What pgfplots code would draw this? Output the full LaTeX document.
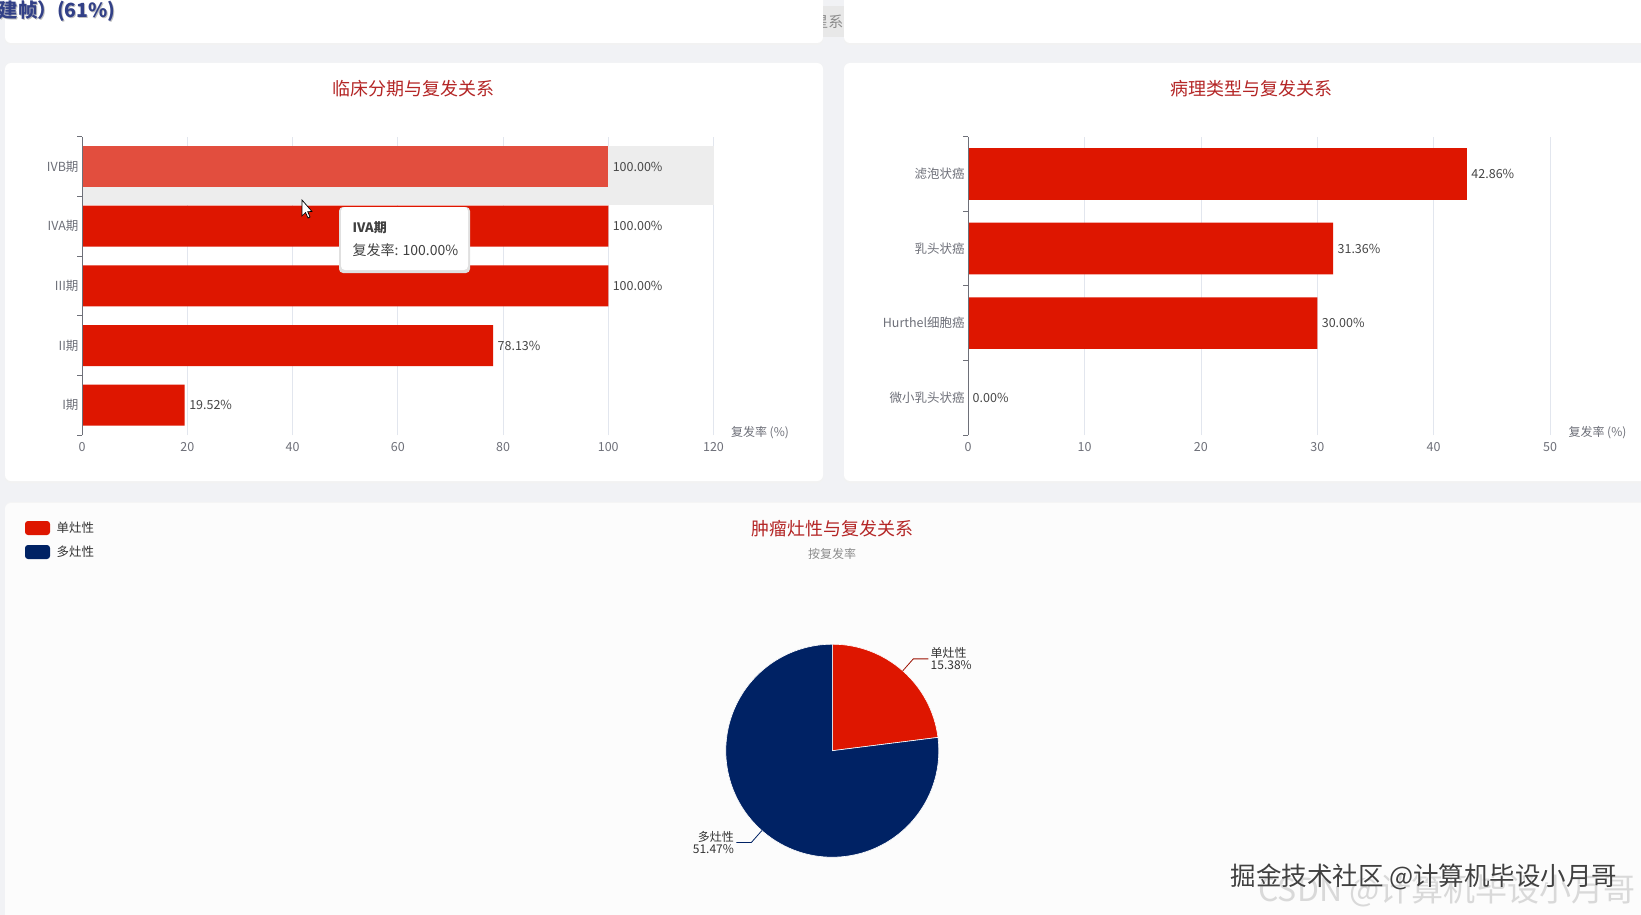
\documentclass[border=0pt]{standalone}
\usepackage{fontspec}
\setmainfont{Noto Sans CJK SC}
\usepackage{pgfplots}
\pgfplotsset{compat=1.18}
\definecolor{bg}{RGB}{241,242,245}
\definecolor{barred}{RGB}{222,22,0}
\definecolor{hired}{RGB}{226,78,62}
\definecolor{navy}{RGB}{0,34,100}
\definecolor{axgrey}{RGB}{110,112,121}
\definecolor{gridc}{RGB}{226,230,238}
\definecolor{titlered}{RGB}{180,38,38}
\definecolor{txt}{RGB}{70,70,70}
\newcommand{\tl}{\fontsize{12.5}{14}\selectfont}
\pgfplotsset{
  dash/.style={
    scale only axis, clip=false,
    xbar, bar shift=0pt,
    axis line style={draw=none},
    xmajorgrids, major grid style={gridc, line width=0.8pt},
    major tick length=0pt,
    tick label style={font=\tl, text=axgrey},
    /pgf/number format/assume math mode=true,
    point meta=x,
    nodes near coords={\pgfmathprintnumber[fixed,fixed zerofill,precision=2]{\pgfplotspointmeta}\%},
    nodes near coords style={font=\tl, text=txt, anchor=west, xshift=1pt},
  }
}
\begin{document}
\begin{tikzpicture}[x=1pt,y=1pt]
\useasboundingbox (0pt,0pt) rectangle (1641pt,-915pt);
\fill[bg] (0,0) rectangle (1641,-915);
% top strip panels
\fill[black!5, rounded corners=6pt] (5,8) rectangle (823,-45);
\fill[white, rounded corners=6pt] (5,8) rectangle (823,-43);
\fill[black!5, rounded corners=6pt] (844,8) rectangle (1650,-45);
\fill[white, rounded corners=6pt] (844,8) rectangle (1650,-43);
\begin{scope}
\clip (823,-6) rectangle (844,-37);
\fill[black!9] (823,-6) rectangle (844,-37);
\node[anchor=east, font=\fontsize{15}{16}\selectfont, text=black!45] at (847,-22) {星系};
\end{scope}
\node[anchor=base west, font=\fontsize{19.5}{22}\selectfont\bfseries, text=black!25] at (-4,-19) {建帧）(61\%)};
\node[anchor=base west, font=\fontsize{19.5}{22}\selectfont\bfseries, text={rgb,255:red,50;green,64;blue,135}] at (-5,-18) {建帧）(61\%)};
% middle panels
\fill[black!5, rounded corners=6pt] (5,-63) rectangle (823,-483);
\fill[white, rounded corners=6pt] (5,-63) rectangle (823,-481);
\fill[black!5, rounded corners=6pt] (844,-63) rectangle (1650,-483);
\fill[white, rounded corners=6pt] (844,-63) rectangle (1650,-481);
% bottom panel
\fill[black!4, rounded corners=6pt] (5,-502) rectangle (1650,-930);
\fill[white!99!black, rounded corners=6pt] (5,-503) rectangle (1650,-930);
% titles
\node[font=\fontsize{18}{20}\selectfont, text=titlered] at (413,-89) {临床分期与复发关系};
\node[font=\fontsize{18}{20}\selectfont, text=titlered] at (1251,-89) {病理类型与复发关系};
\node[font=\fontsize{18}{20}\selectfont, text=titlered] at (832,-529) {肿瘤灶性与复发关系};
\node[font=\fontsize{12}{14}\selectfont, text=black!45] at (832,-554) {按复发率};

% chart 1
\begin{axis}[dash,
  at={(82pt,-435pt)}, anchor=south west,
  width=631.5pt, height=298.3pt,
  xmin=0, xmax=120, ymin=-0.5, ymax=4.5,
  bar width=41pt,
  xtick={0,20,...,120}, ytick={0,...,4},
  yticklabels={I期,II期,III期,IVA期,IVB期},
  xticklabel style={yshift=-4pt},
]
\fill[black!7] (axis cs:0,3.35) rectangle (axis cs:120,4.35);
\addplot[fill=barred, draw=none] coordinates {(19.52,0) (78.13,1) (100,2) (100,3)};
\addplot[fill=hired, draw=none] coordinates {(100,4)};
\draw[axgrey, line width=0.8pt] (axis cs:0,-0.5) -- (axis cs:0,4.5);
\pgfplotsinvokeforeach{-0.5,0.5,1.5,2.5,3.5,4.5}{\draw[axgrey, line width=0.8pt] (axis cs:0,#1) -- ++(-5pt,0pt);}
\node[anchor=west, font=\fontsize{12}{14}\selectfont, text=axgrey] at (rel axis cs:1,0) [xshift=14pt, yshift=2pt] {复发率 (\%)};
\end{axis}

% chart 2
\begin{axis}[dash,
  at={(968.2pt,-435pt)}, anchor=south west,
  width=581.8pt, height=298.3pt,
  xmin=0, xmax=50, ymin=-0.5, ymax=3.5,
  bar width=51.7pt,
  xtick={0,10,...,50}, ytick={0,...,3},
  yticklabels={微小乳头状癌,Hurthel细胞癌,乳头状癌,滤泡状癌},
  xticklabel style={yshift=-4pt},
]
\addplot[fill=barred, draw=none] coordinates {(0,0) (30.00,1) (31.36,2) (42.86,3)};
\draw[axgrey, line width=0.8pt] (axis cs:0,-0.5) -- (axis cs:0,3.5);
\pgfplotsinvokeforeach{-0.5,0.5,1.5,2.5,3.5}{\draw[axgrey, line width=0.8pt] (axis cs:0,#1) -- ++(-5pt,0pt);}
\node[anchor=west, font=\fontsize{12}{14}\selectfont, text=axgrey] at (rel axis cs:1,0) [xshift=15pt, yshift=2pt] {复发率 (\%)};
\end{axis}

% tooltip and cursor
\fill[black!12, rounded corners=4pt] (339,-207) rectangle (470,-273);
\fill[white, rounded corners=4pt] (341,-207) rectangle (468,-270);
\node[anchor=west, font=\fontsize{13}{15}\selectfont\bfseries, text=black!75] at (349,-228) {IVA期};
\node[anchor=west, font=\fontsize{14}{16}\selectfont, text=black!75] at (349,-250) {复发率: 100.00\%};
\fill[white, draw=black, line width=0.7pt] (302,-200) -- (302,-216) -- (305.5,-212.5) -- (308,-218) -- (310,-217) -- (307.7,-211.7) -- (312,-211.5) -- cycle;

% legend
\fill[barred, rounded corners=3pt] (25,-521) rectangle (50,-535);
\node[anchor=west, font=\fontsize{12.5}{14}\selectfont, text=black!80] at (53,-527.5) {单灶性};
\fill[navy, rounded corners=3pt] (25,-545) rectangle (50,-559);
\node[anchor=west, font=\fontsize{12.5}{14}\selectfont, text=black!80] at (53,-551.5) {多灶性};

% pie
\pgfmathsetmacro\vA{15.38}
\pgfmathsetmacro\vB{51.47}
\pgfmathsetmacro\ea{90-360*\vA/(\vA+\vB)}
\pgfmathsetmacro\ex{cos(\ea)}
\pgfmathsetmacro\ey{sin(\ea)}
\pgfmathsetmacro\ma{(90+\ea)/2}
\pgfmathsetmacro\mb{(\ea-270)/2}
\pgfmathsetmacro\pax{cos(\ma)}\pgfmathsetmacro\pay{sin(\ma)}
\pgfmathsetmacro\qax{1.15*cos(\ma)}\pgfmathsetmacro\qay{1.15*sin(\ma)}
\pgfmathsetmacro\pbx{cos(\mb)}\pgfmathsetmacro\pby{sin(\mb)}
\pgfmathsetmacro\qbx{1.15*cos(\mb)}\pgfmathsetmacro\qby{1.15*sin(\mb)}
\begin{axis}[at={(832.3pt,-750.7pt)}, anchor=center, scale only axis,
  width=213pt, height=213pt, xmin=-1, xmax=1, ymin=-1, ymax=1,
  hide axis, clip=false]
\filldraw[fill=barred, draw=white, line width=0.6pt] (axis cs:0,0) -- (axis cs:0,1) arc[start angle=90, end angle=\ea, radius=106.5pt] -- cycle;
\filldraw[fill=navy, draw=white, line width=0.6pt] (axis cs:0,0) -- (axis cs:\ex,\ey) arc[start angle=\ea, end angle=-270, radius=106.5pt] -- cycle;
\draw[barred!70!black, line width=0.8pt] (axis cs:\pax,\pay) -- (axis cs:\qax,\qay) -- ++(15pt,0pt)
  node[anchor=west, align=left, inner sep=2pt, font=\fontsize{12}{12}\selectfont, text=black!80] {单灶性\\15.38\%};
\draw[navy, line width=0.8pt] (axis cs:\pbx,\pby) -- (axis cs:\qbx,\qby) -- ++(-15pt,0pt)
  node[anchor=east, align=right, inner sep=2pt, font=\fontsize{12}{12}\selectfont, text=black!80] {多灶性\\51.47\%};
\end{axis}

% watermark
\node[font=\fontsize{32}{34}\selectfont, text=black!15] at (1447,-891) {CSDN @计算机毕设小月哥};
\node[font=\fontsize{25.5}{28}\selectfont, text=white] at (1423,-876) {掘金技术社区 @计算机毕设小月哥};
\node[font=\fontsize{25.5}{28}\selectfont, text=black!75] at (1424,-877) {掘金技术社区 @计算机毕设小月哥};
\end{tikzpicture}
\end{document}
